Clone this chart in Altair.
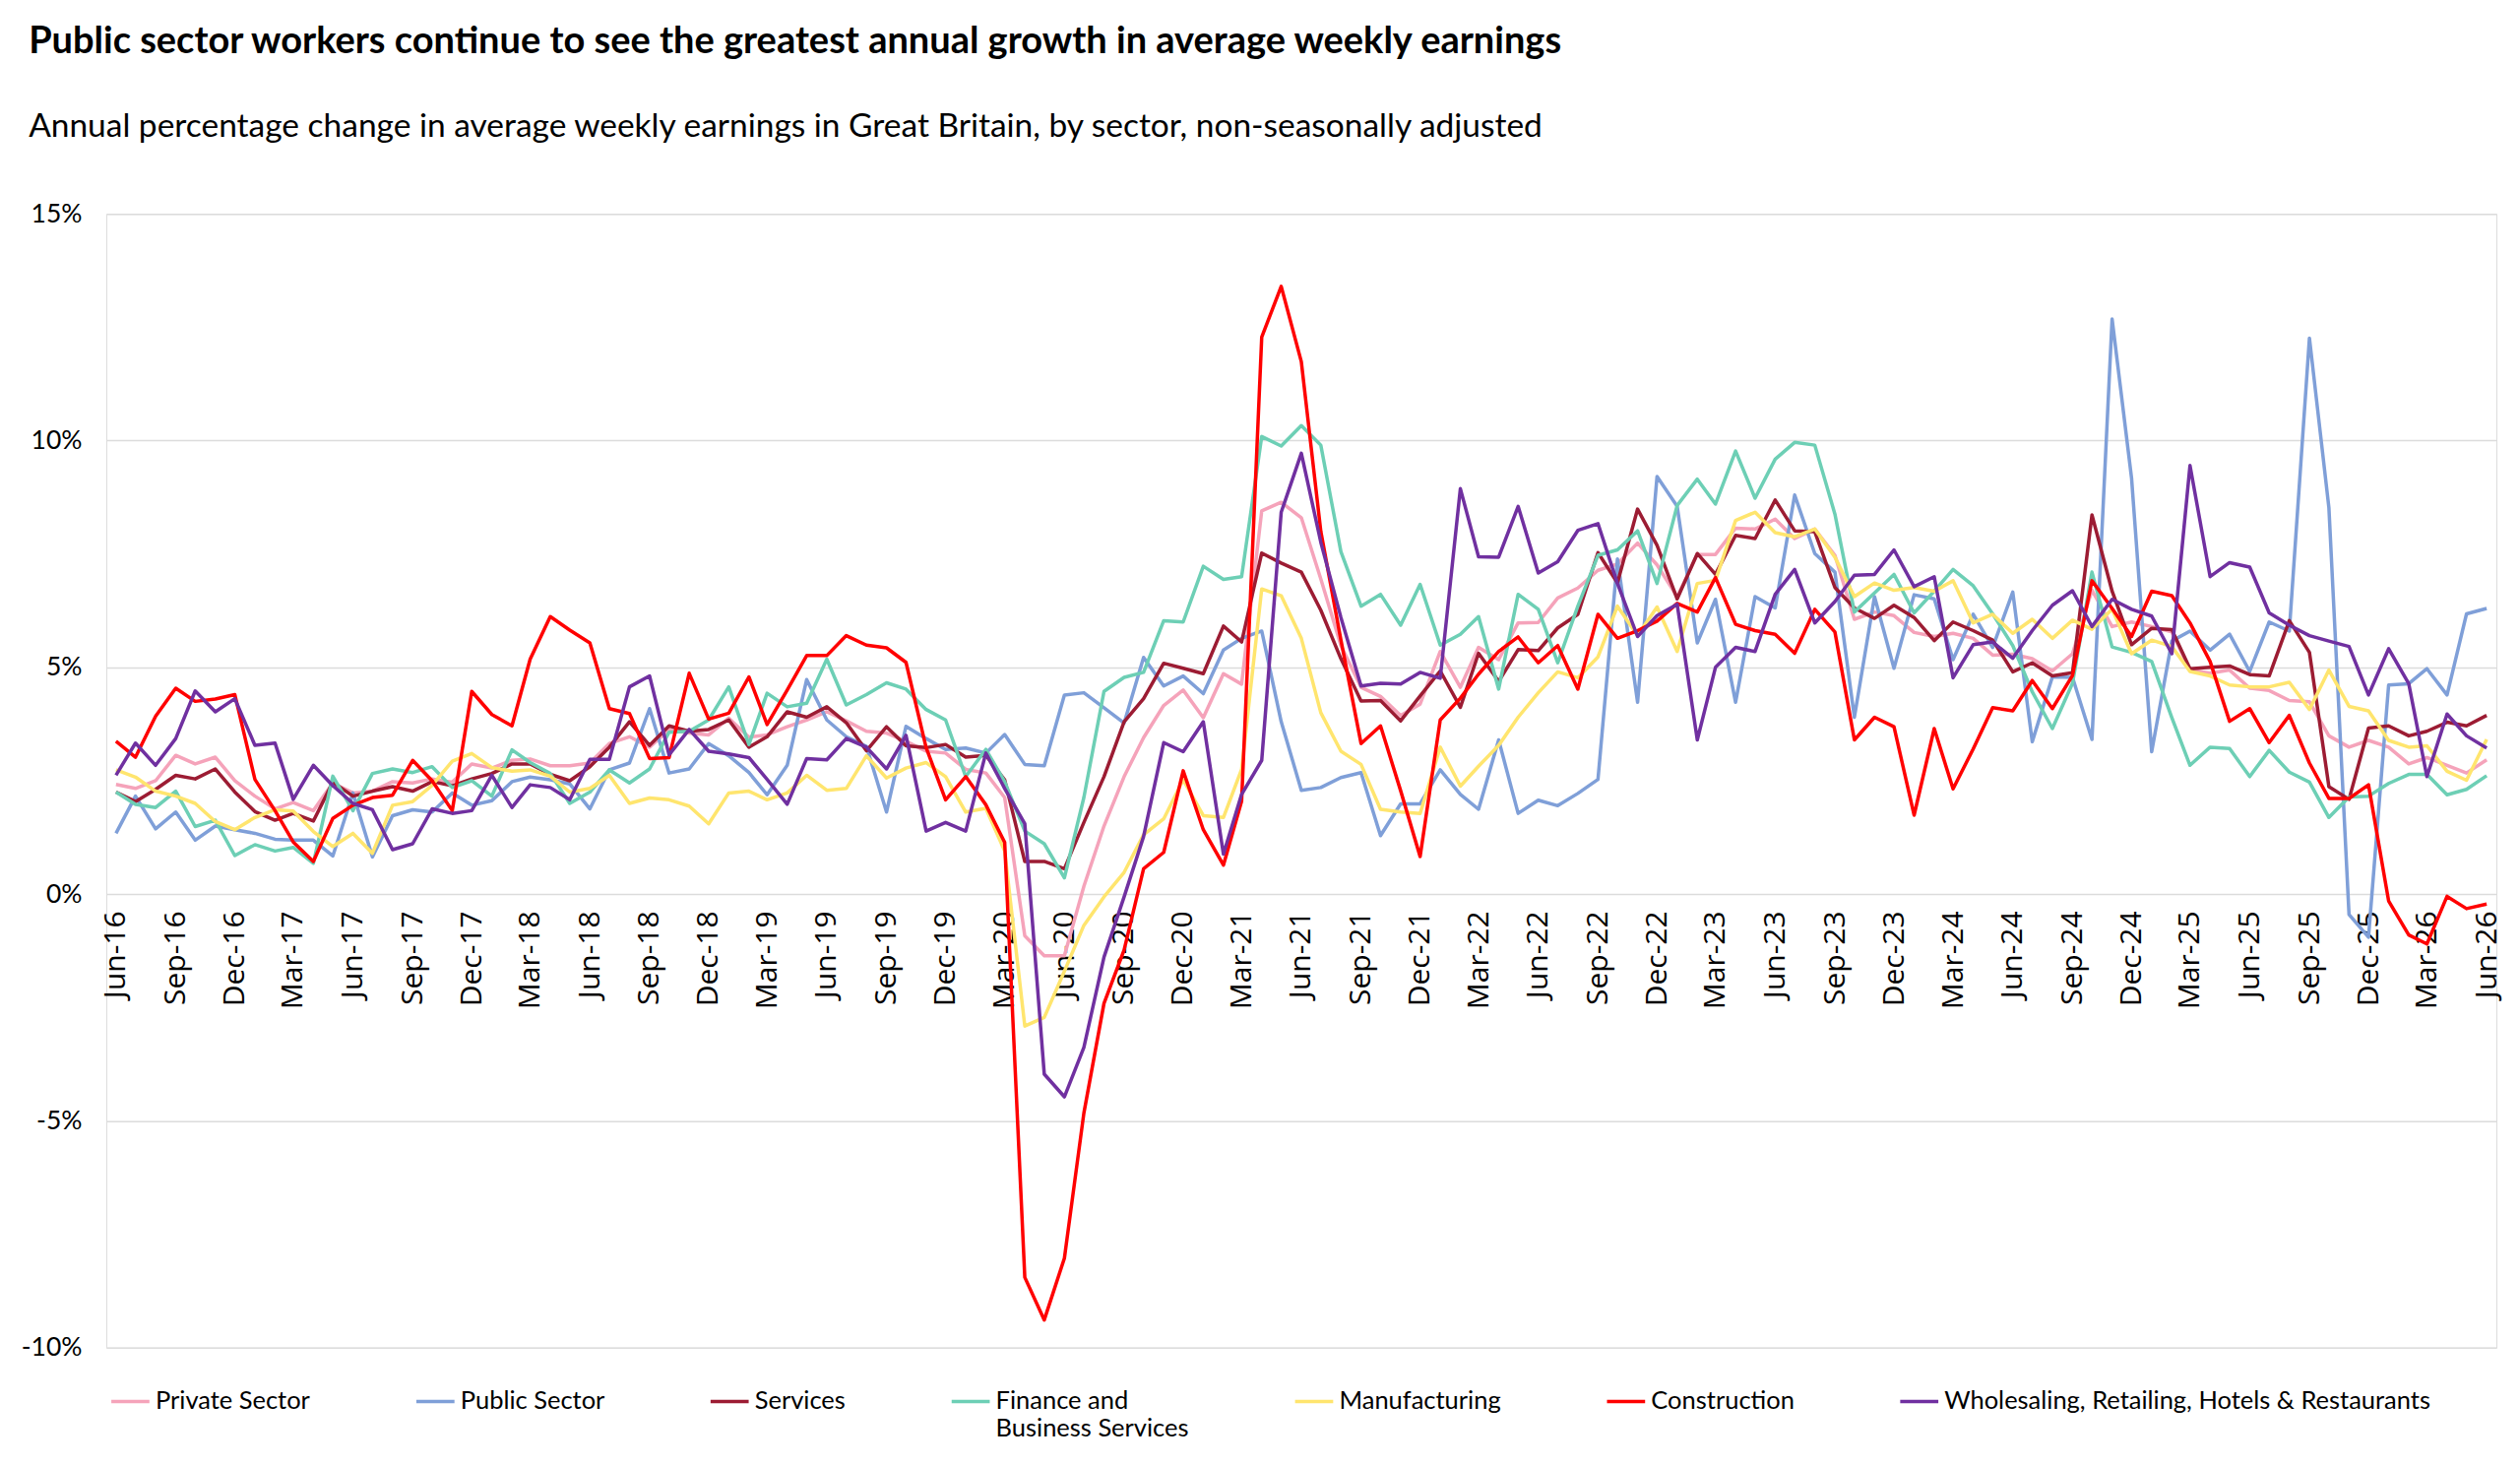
import altair as alt
import pandas as pd

# ---------------- data ----------------
start_month = "2016-06-01"

series_names = [
    "Private Sector",
    "Public Sector",
    "Services",
    "Finance and Business Services",
    "Manufacturing",
    "Construction",
    "Wholesaling, Retailing, Hotels & Restaurants",
]

private_sector = [
    2.42, 2.33, 2.50, 3.06, 2.87, 3.02, 2.50, 2.16, 1.88, 2.02, 1.84, 2.45, 2.23, 2.27, 2.48, 2.45, 2.54, 2.47, 2.87, 2.78, 2.95, 2.98,
    2.83, 2.83, 2.89, 3.32, 3.47, 3.24, 3.63, 3.55, 3.51, 3.88, 3.46, 3.51, 3.69, 3.84, 4.02, 3.82, 3.59, 3.55, 3.37, 3.15,
    3.11, 2.75, 2.67, 2.13, -0.92, -1.36, -1.36, 0.17, 1.50, 2.59, 3.45, 4.16, 4.50, 3.89, 4.86, 4.63, 8.45, 8.64, 8.30, 6.95,
    5.48, 4.56, 4.36, 3.94, 4.19, 5.35, 4.56, 5.44, 5.17, 5.98, 5.99, 6.53, 6.75, 7.14, 7.28, 7.74, 7.26, 6.56, 7.49, 7.49,
    8.07, 8.05, 8.27, 7.84, 8.05, 7.47, 6.06, 6.22, 6.14, 5.77, 5.68, 5.75, 5.64, 5.27, 5.29, 5.19, 4.92, 5.30, 6.70, 5.90,
    6.00, 5.90, 5.78, 4.94, 4.87, 4.94, 4.54, 4.49, 4.27, 4.24, 3.49, 3.24, 3.39, 3.24, 2.87, 3.01, 2.84, 2.67, 2.96,
]

public_sector = [
    1.34, 2.16, 1.44, 1.81, 1.19, 1.50, 1.42, 1.34, 1.21, 1.19, 1.19, 0.84, 2.23, 0.82, 1.73, 1.86, 1.81, 2.23, 1.96, 2.06, 2.48, 2.58,
    2.52, 2.43, 1.88, 2.74, 2.89, 4.09, 2.67, 2.76, 3.32, 3.05, 2.68, 2.19, 2.84, 4.73, 3.84, 3.47, 3.26, 1.81, 3.70, 3.43,
    3.19, 3.22, 3.11, 3.52, 2.86, 2.83, 4.39, 4.44, 4.11, 3.77, 5.22, 4.59, 4.81, 4.42, 5.38, 5.64, 5.80, 3.80, 2.29, 2.35,
    2.57, 2.68, 1.29, 1.99, 1.99, 2.74, 2.20, 1.87, 3.40, 1.78, 2.07, 1.95, 2.22, 2.53, 7.39, 4.23, 9.21, 8.55, 5.54, 6.50,
    4.23, 6.56, 6.31, 8.80, 7.51, 7.10, 3.90, 6.56, 4.98, 6.60, 6.51, 5.17, 6.17, 5.44, 6.66, 3.36, 4.79, 4.78, 3.41, 12.68,
    9.17, 3.14, 5.58, 5.80, 5.38, 5.73, 4.91, 6.00, 5.80, 12.26, 8.52, -0.45, -0.95, 4.61, 4.64, 4.97, 4.39, 6.18, 6.30,
]

services = [
    2.25, 2.04, 2.31, 2.62, 2.54, 2.76, 2.25, 1.82, 1.63, 1.78, 1.61, 2.47, 2.16, 2.27, 2.37, 2.27, 2.48, 2.39, 2.54, 2.66, 2.87, 2.87,
    2.64, 2.50, 2.81, 3.24, 3.80, 3.28, 3.71, 3.59, 3.63, 3.84, 3.24, 3.47, 4.02, 3.90, 4.13, 3.78, 3.16, 3.69, 3.27, 3.23,
    3.30, 3.02, 3.06, 2.52, 0.72, 0.72, 0.56, 1.58, 2.59, 3.80, 4.31, 5.09, 4.98, 4.86, 5.91, 5.56, 7.52, 7.30, 7.10, 6.26,
    5.19, 4.26, 4.27, 3.82, 4.37, 4.92, 4.12, 5.31, 4.69, 5.39, 5.37, 5.87, 6.17, 7.53, 6.86, 8.49, 7.69, 6.51, 7.51, 7.05,
    7.91, 7.84, 8.69, 8.01, 7.99, 6.76, 6.31, 6.08, 6.37, 6.10, 5.59, 6.00, 5.81, 5.60, 4.90, 5.10, 4.81, 4.88, 8.36, 6.68,
    5.50, 5.86, 5.83, 4.97, 5.00, 5.03, 4.84, 4.81, 6.03, 5.33, 2.37, 2.09, 3.66, 3.71, 3.49, 3.59, 3.79, 3.71, 3.94,
]

finance_business = [
    2.25, 1.98, 1.91, 2.27, 1.49, 1.63, 0.85, 1.09, 0.95, 1.03, 0.68, 2.60, 1.84, 2.66, 2.76, 2.68, 2.81, 2.35, 2.50, 2.16, 3.18, 2.90,
    2.66, 2.00, 2.25, 2.74, 2.45, 2.76, 3.57, 3.59, 3.84, 4.57, 3.30, 4.43, 4.13, 4.21, 5.18, 4.17, 4.40, 4.66, 4.52, 4.07,
    3.84, 2.59, 3.19, 2.48, 1.39, 1.11, 0.36, 2.13, 4.47, 4.78, 4.89, 6.03, 6.00, 7.23, 6.94, 7.00, 10.09, 9.88, 10.33, 9.90,
    7.55, 6.35, 6.61, 5.93, 6.83, 5.49, 5.73, 6.12, 4.52, 6.61, 6.28, 5.10, 6.35, 7.47, 7.59, 8.01, 6.85, 8.57, 9.15, 8.60,
    9.77, 8.73, 9.59, 9.96, 9.90, 8.38, 6.22, 6.64, 7.05, 6.20, 6.68, 7.16, 6.80, 6.18, 5.48, 4.46, 3.65, 4.65, 7.10, 5.45,
    5.33, 5.13, 3.89, 2.84, 3.24, 3.21, 2.59, 3.17, 2.69, 2.47, 1.69, 2.14, 2.16, 2.44, 2.64, 2.64, 2.19, 2.31, 2.61,
]

manufacturing = [
    2.74, 2.58, 2.27, 2.16, 2.00, 1.60, 1.42, 1.69, 1.86, 1.83, 1.38, 1.05, 1.34, 0.90, 1.96, 2.04, 2.40, 2.93, 3.10, 2.79, 2.71, 2.74,
    2.60, 2.25, 2.33, 2.62, 2.00, 2.12, 2.08, 1.94, 1.55, 2.23, 2.27, 2.08, 2.23, 2.62, 2.29, 2.33, 3.05, 2.56, 2.78, 2.90,
    2.59, 1.81, 1.89, 0.95, -2.91, -2.72, -1.70, -0.69, -0.06, 0.48, 1.31, 1.66, 2.52, 1.73, 1.69, 2.75, 6.73, 6.58, 5.64, 4.00,
    3.15, 2.86, 1.87, 1.81, 1.78, 3.24, 2.38, 2.82, 3.28, 3.90, 4.44, 4.90, 4.77, 5.23, 6.35, 5.70, 6.33, 5.35, 6.85, 6.92,
    8.24, 8.42, 7.97, 7.88, 8.05, 7.43, 6.56, 6.86, 6.70, 6.76, 6.68, 6.91, 5.98, 6.17, 5.75, 6.06, 5.64, 6.04, 5.84, 6.28,
    5.30, 5.60, 5.46, 4.91, 4.81, 4.61, 4.57, 4.57, 4.67, 4.07, 4.94, 4.14, 4.04, 3.39, 3.24, 3.27, 2.71, 2.51, 3.41,
]

construction = [
    3.37, 3.02, 3.92, 4.54, 4.25, 4.30, 4.40, 2.53, 1.84, 1.15, 0.72, 1.67, 1.96, 2.13, 2.18, 2.95, 2.50, 1.84, 4.47, 3.96, 3.71, 5.18,
    6.12, 5.82, 5.54, 4.09, 3.98, 2.99, 3.01, 4.87, 3.86, 3.99, 4.79, 3.74, 4.50, 5.26, 5.26, 5.70, 5.49, 5.43, 5.11, 3.23,
    2.08, 2.59, 1.97, 1.14, -8.45, -9.39, -8.03, -4.83, -2.41, -1.23, 0.56, 0.92, 2.72, 1.42, 0.64, 2.05, 12.28, 13.40, 11.74, 8.00,
    5.60, 3.32, 3.71, 2.28, 0.83, 3.84, 4.32, 4.85, 5.35, 5.67, 5.10, 5.48, 4.52, 6.17, 5.64, 5.81, 6.02, 6.41, 6.22, 6.98,
    5.95, 5.81, 5.73, 5.31, 6.28, 5.78, 3.40, 3.90, 3.69, 1.74, 3.65, 2.32, 3.20, 4.11, 4.04, 4.71, 4.09, 4.82, 6.91, 6.30,
    5.68, 6.68, 6.58, 5.98, 5.13, 3.81, 4.09, 3.34, 3.94, 2.89, 2.11, 2.11, 2.41, -0.15, -0.90, -1.10, -0.05, -0.32, -0.22,
]

wholesale_retail = [
    2.62, 3.33, 2.84, 3.43, 4.48, 4.02, 4.31, 3.28, 3.33, 2.09, 2.84, 2.39, 2.00, 1.86, 0.98, 1.11, 1.88, 1.78, 1.84, 2.62, 1.91, 2.41,
    2.35, 2.08, 2.97, 2.97, 4.57, 4.81, 3.07, 3.63, 3.15, 3.09, 3.01, 2.53, 1.98, 2.99, 2.96, 3.43, 3.24, 2.76, 3.50, 1.39,
    1.58, 1.39, 3.11, 2.33, 1.55, -3.97, -4.47, -3.38, -1.39, -0.06, 1.27, 3.34, 3.14, 3.80, 0.88, 2.20, 2.95, 8.42, 9.72, 7.76,
    6.10, 4.59, 4.65, 4.63, 4.89, 4.76, 8.94, 7.44, 7.43, 8.55, 7.08, 7.33, 8.02, 8.17, 6.85, 5.68, 6.14, 6.39, 3.40, 5.00,
    5.44, 5.35, 6.61, 7.16, 5.98, 6.45, 7.03, 7.05, 7.59, 6.78, 7.00, 4.77, 5.50, 5.56, 5.20, 5.81, 6.37, 6.69, 5.90, 6.50,
    6.28, 6.13, 5.30, 9.45, 7.00, 7.31, 7.21, 6.20, 5.93, 5.70, 5.58, 5.46, 4.39, 5.41, 4.64, 2.59, 3.97, 3.49, 3.22,
]

y_ticks = [-10, -5, 0, 5, 10, 15]

# ---------------- styles ----------------
colors = ["#F5A3BA", "#7F9FD8", "#9C1C33", "#6DCFB5", "#FFE56E", "#FF0000", "#7030A0"]
widths = [3.5, 3.5, 3.5, 3.5, 3.5, 5.0, 4.5]
FONT = "Lato"
AXIS_X_FONT = "Open Sans"

all_series = [private_sector, public_sector, services, finance_business,
              manufacturing, construction, wholesale_retail]
months = pd.date_range(start_month, periods=len(private_sector), freq="MS")

rows = []
for name, vals in zip(series_names, all_series):
    for d, v in zip(months, vals):
        rows.append({"date": d.strftime("%Y-%m-%d"), "sector": name, "value": v})
df = pd.DataFrame(rows)

tick_values = [alt.DateTime(year=int(d.year), month=int(d.month), date=1, utc=True)
               for d in months[::3]]
x_domain = [alt.DateTime(year=2016, month=5, date=17, utc=True),
            alt.DateTime(year=2026, month=6, date=16, utc=True)]

W, H = 2429, 1152
y_min, y_max = -10, 15
x_axis_offset = -round(H * (0 - y_min) / (y_max - y_min))

# every legend label is two lines tall so all entries line up; only the
# finance label actually wraps
legend_label_expr = (
    "datum.label == 'Finance and Business Services' ? "
    "['Finance and', 'Business Services'] : [datum.label, '']"
)

chart = (
    alt.Chart(df)
    .mark_line(strokeJoin="round", strokeCap="butt")
    .encode(
        x=alt.X(
            "date:T",
            scale=alt.Scale(type="utc", domain=x_domain, nice=False),
            axis=alt.Axis(
                values=tick_values, format="%b-%y", labelAngle=270,
                labelAlign="right", labelBaseline="middle",
                labelOverlap=False, labelFlush=False, offset=x_axis_offset,
                grid=False, domain=False, ticks=False, labelPadding=17,
                labelFontSize=30, labelFont=AXIS_X_FONT, labelColor="#000000", title=None,
            ),
        ),
        y=alt.Y(
            "value:Q",
            scale=alt.Scale(domain=[y_min, y_max], nice=False, zero=False),
            axis=alt.Axis(
                values=y_ticks, labelExpr="datum.value + '%'", grid=True,
                gridColor="#DCDCDC", gridWidth=1.5, domain=False, ticks=False,
                labelPadding=25, labelFontSize=26.5, labelFont=FONT,
                labelColor="#000000", title=None,
            ),
        ),
        color=alt.Color(
            "sector:N",
            scale=alt.Scale(domain=series_names, range=colors),
            legend=alt.Legend(
                title=None, orient="none", legendX=3, legendY=1185,
                direction="horizontal", symbolType="stroke", symbolSize=1500,
                symbolStrokeWidth=5, labelFontSize=25.5, labelFont=FONT,
                labelColor="#000000", labelLimit=0, labelOffset=4,
                columnPadding=100, padding=0, labelExpr=legend_label_expr,
            ),
        ),
        strokeWidth=alt.StrokeWidth(
            "sector:N", scale=alt.Scale(domain=series_names, range=widths), legend=None
        ),
    )
    .properties(
        width=W,
        height=H,
        padding={"left": 13, "top": 15, "right": 10, "bottom": 6},
        title=alt.Title(
            text="Public sector workers continue to see the greatest annual growth in average weekly earnings",
            subtitle="Annual percentage change in average weekly earnings in Great Britain, by sector, non-seasonally adjusted",
            anchor="start", frame="bounds", font=FONT, fontSize=38, fontWeight="bold",
            color="#000000", subtitleFont=FONT, subtitleFontSize=33.5,
            subtitleColor="#000000", subtitlePadding=51, offset=59, dx=8,
        ),
    )
    .configure_view(stroke="#D9D9D9", strokeWidth=1.5)
    .configure(background="white")
)

chart.save("out.html", embed_options={"renderer": "svg", "actions": False})
